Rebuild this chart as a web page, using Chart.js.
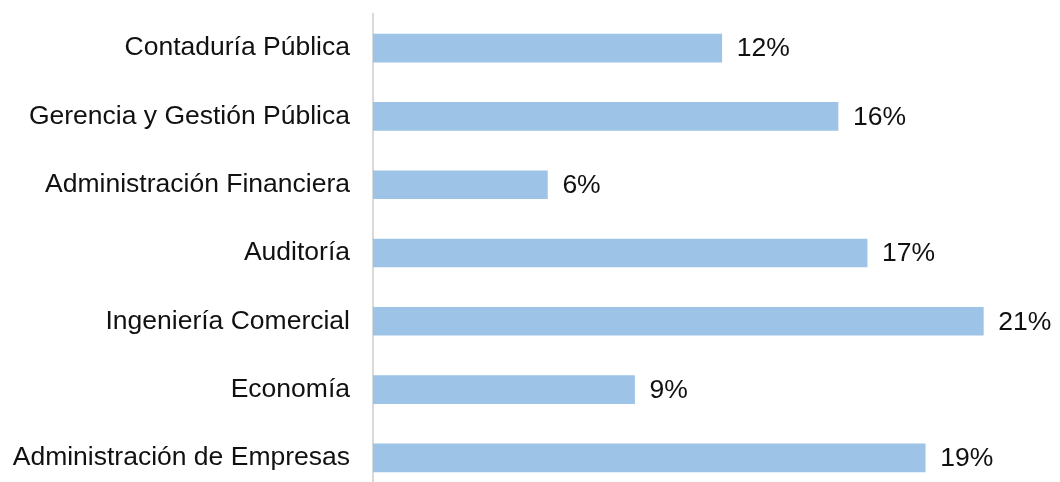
<!DOCTYPE html>
<html>
<head>
<meta charset="utf-8">
<script src="https://cdn.jsdelivr.net/npm/chart.js@4/dist/chart.umd.min.js"></script>
<style>
  html, body { margin: 0; padding: 0; background: #fff; overflow: hidden; }
  #wrap { width: 1060px; height: 492px; }
</style>
</head>
<body>
<div id="wrap"><canvas id="carreras"></canvas></div>
<script>
// Carreras y porcentaje de cada una
const carreras = [
    'Contaduría Pública',
    'Gerencia y Gestión Pública',
    'Administración Financiera',
    'Auditoría',
    'Ingeniería Comercial',
    'Economía',
    'Administración de Empresas'
];
const porcentajes = [12, 16, 6, 17, 21, 9, 19];

const fuente = '"Liberation Sans", Arial, sans-serif';
const tamFuente = 26.5;

// Etiqueta con el valor a la derecha de cada barra
const etiquetasValor = {
    id: 'etiquetasValor',
    afterDatasetsDraw(chart) {
        const ctx = chart.ctx;
        const meta = chart.getDatasetMeta(0);
        ctx.save();
        ctx.font = tamFuente + 'px ' + fuente;
        ctx.fillStyle = '#111';
        ctx.textAlign = 'left';
        ctx.textBaseline = 'middle';
        meta.data.forEach((bar, i) => {
            ctx.fillText(porcentajes[i] + '%', bar.x + 15, bar.y + 1);
        });
        ctx.restore();
    }
};

const ctx = document.getElementById('carreras').getContext('2d');
const grafico = new Chart(ctx, {
    type: 'bar',
    data: {
        labels: carreras,
        datasets: [{
            data: porcentajes,
            backgroundColor: '#9dc3e6',
            borderWidth: 0,
            barThickness: 28
        }]
    },
    options: {
        indexAxis: 'y',
        responsive: true,
        maintainAspectRatio: false,
        animation: false,
        layout: { padding: { top: 14, right: 4, bottom: 0, left: 0 } },
        plugins: {
            legend: { display: false },
            tooltip: { enabled: false }
        },
        scales: {
            x: {
                display: false,
                min: 0,
                max: 23.5
            },
            y: {
                grid: { display: false },
                border: { display: true, color: '#d9d9d9', width: 2 },
                ticks: {
                    color: '#111',
                    padding: 15,
                    font: { family: fuente, size: tamFuente }
                },
                afterFit(scale) {
                    scale.width = 373;
                    scale.paddingTop = 0;
                    scale.paddingBottom = 0;
                }
            }
        }
    },
    plugins: [etiquetasValor]
});
</script>
</body>
</html>
